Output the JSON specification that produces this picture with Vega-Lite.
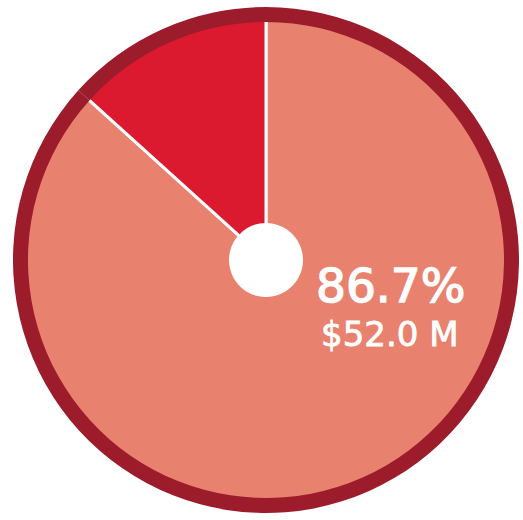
{
  "$schema": "https://vega.github.io/schema/vega-lite/v6.json",
  "width": 532,
  "height": 520,
  "autosize": "none",
  "padding": 0,
  "background": "white",
  "view": {"stroke": null},
  "data": {
    "values": [
      {"segment": "Major", "value": 86.7, "order": 1, "pct": "86.7%", "amount": "$52.0 M"},
      {"segment": "Minor", "value": 13.3, "order": 2, "pct": "13.3%", "amount": ""}
    ]
  },
  "layer": [
    {
      "mark": {"type": "arc", "outerRadius": 241, "innerRadius": 0, "stroke": "white", "strokeWidth": 3},
      "encoding": {
        "theta": {"field": "value", "type": "quantitative", "stack": true},
        "order": {"field": "order", "type": "quantitative"},
        "color": {
          "field": "segment", "type": "nominal",
          "scale": {"domain": ["Major", "Minor"], "range": ["#E8826F", "#DB1A2F"]},
          "legend": null
        }
      }
    },
    {
      "mark": {"type": "arc", "outerRadius": 253, "innerRadius": 238, "fill": "#9D1C2C", "stroke": null},
      "encoding": {
        "theta": {"field": "value", "type": "quantitative", "stack": true},
        "order": {"field": "order", "type": "quantitative"}
      }
    },
    {
      "mark": {"type": "arc", "outerRadius": 37, "innerRadius": 0, "fill": "white", "stroke": null},
      "encoding": {
        "theta": {"field": "value", "type": "quantitative", "stack": true},
        "order": {"field": "order", "type": "quantitative"}
      }
    },
    {
      "transform": [{"filter": "datum.segment === 'Major'"}],
      "mark": {"type": "text", "align": "left", "baseline": "alphabetic", "dx": 50, "dy": 42, "font": "DejaVu Sans", "fontSize": 47, "color": "white", "stroke": "white", "strokeWidth": 1.4},
      "encoding": {"text": {"field": "pct", "type": "nominal"}}
    },
    {
      "transform": [{"filter": "datum.segment === 'Major'"}],
      "mark": {"type": "text", "align": "left", "baseline": "alphabetic", "dx": 55, "dy": 86, "font": "DejaVu Sans", "fontSize": 34, "color": "white", "stroke": "white", "strokeWidth": 0.8},
      "encoding": {"text": {"field": "amount", "type": "nominal"}}
    }
  ]
}
